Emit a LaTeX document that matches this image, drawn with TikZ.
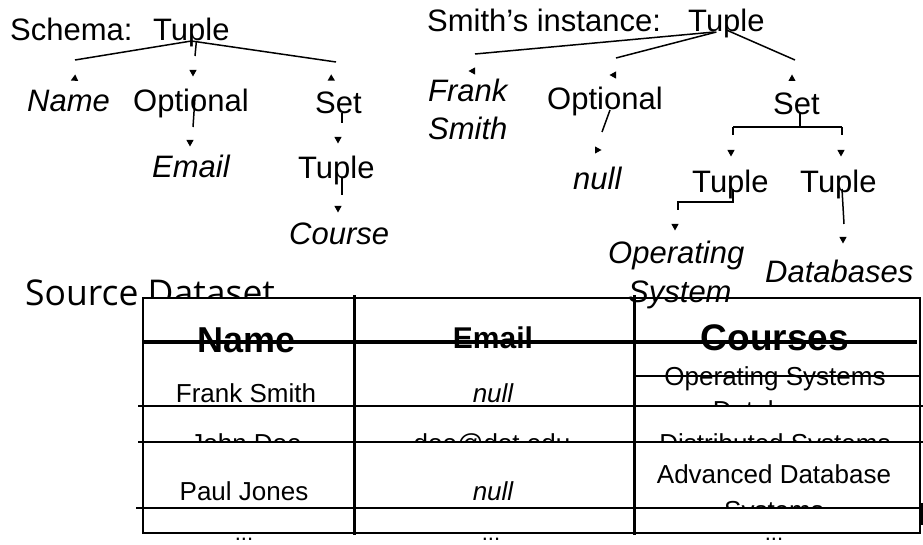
\documentclass[tikz,border=0pt]{standalone}
\usepackage{fontspec}
\usetikzlibrary{calc}
\setmainfont{Liberation Sans}
\newfontfamily\srcfont{Open Sans}
\newcommand\fsz[1]{\fontsize{#1}{#1}\selectfont}
% small filled arrow tip: (x, y, rotation); rotation 0 points down
\newcommand\arrtip[3]{\fill[shift={(#1,#2)},rotate=#3] (0,3.5) -- (-3.6,-3) -- (3.6,-3) -- cycle;}
\tikzset{
  lbl/.style={inner sep=0pt, anchor=base west, font=\fsz{31}},
  ilbl/.style={lbl, font=\fsz{31}\itshape},
  conn/.style={line width=1.5pt},
  cell/.style={inner sep=0pt, anchor=base, font=\fsz{26}},
  icell/.style={cell, font=\fsz{26}\itshape},
  head/.style={inner sep=0pt, anchor=base, font=\bfseries},
}
\begin{document}
\begin{tikzpicture}[x=1pt,y=-1pt]
\clip (0,0) rectangle (923,545);
\fill[white] (0,0) rectangle (923,545);

% ---------- caption, partly hidden by the table ----------
\node[inner sep=0pt, anchor=base west, font=\srcfont\fsz{35.5}] (src) at (25,305) {Source Dataset};

% ---------- table ----------
\fill[white] (143,298) rectangle (920,533);
\draw[line width=1.8pt] (143,298) rectangle (920,533);
\draw[line width=3pt] (354,295) -- (354,535);
\draw[line width=3pt] (634,295) -- (634,535);

\node[head, font=\bfseries\fsz{36}] (hName) at (247,352) {Name};
\node[head, font=\bfseries\fsz{30}] (hEmail) at (493,348) {Email};
\node[head, font=\bfseries\fsz{37}] (hCourses) at (775,350) {Courses};

\node[cell] (r1n) at (246,402) {Frank Smith};
\node[icell] (r1e) at (493,402) {null};
\node[cell] (r1c) at (775,385) {Operating Systems};
\begin{scope}
  \clip (636,378) rectangle (919,405);
  \node[cell] (r1c2) at (775,419) {Databases};
\end{scope}

\begin{scope}
  \clip (143,407) rectangle (920,441);
  \node[cell] (r2n) at (246,452) {John Doe};
  \node[cell] (r2e) at (492,452) {doe@dot.edu};
  \node[cell] (r2c) at (775,452) {Distributed Systems};
\end{scope}

\node[cell] (r3n) at (244,500) {Paul Jones};
\node[icell] (r3e) at (493,500) {null};
\node[cell] (r3c) at (774,483) {Advanced Database};
\begin{scope}
  \clip (636,443) rectangle (919,507);
  \node[cell] (r3c2) at (774,519) {Systems};
\end{scope}

% row rules, drawn over the cell texts
\draw[line width=3.5pt] (142,342) -- (917,342);
\draw[line width=1.5pt] (634,376) -- (920,376);
\draw[line width=2.5pt] (138,406) -- (923,406);
\draw[line width=2.2pt] (138,442) -- (923,442);
\draw[line width=2.2pt] (136,508) -- (920,508);
\draw[line width=3pt] (922,503) -- (922,525);

\node[cell, font=\fsz{22}] (d1) at (244,540) {...};
\node[cell, font=\fsz{22}] (d2) at (491,540) {...};
\node[cell, font=\fsz{22}] (d3) at (774,540) {...};

% ---------- schema tree ----------
\node[lbl] (sLab) at (10,41) {Schema:};
\node[lbl] (sT) at (153,41) {Tuple};
\coordinate (sA) at (75,60);
\coordinate (sB) at (195,56);
\coordinate (sC) at (336,62);
\draw[conn] (sT.base) -- (sA);
\draw[conn] (sT.base) -- (sC);
\draw[conn] ($(sT.base)+(5,0)$) -- (sB);
\arrtip{74}{79}{-65}
\arrtip{193}{73}{0}
\arrtip{332}{79}{60}

\node[ilbl] (sName) at (27,112) {Name};
\node[lbl] (sOpt) at (133,112) {Optional};
\node[lbl] (sSet) at (315,114) {Set};

\coordinate (sO1) at (195,97);
\coordinate (sO2) at (193,127);
\draw[conn] (sO1) -- (sO2);
\arrtip{190}{143}{0}
\node[ilbl] (sEmail) at (152,178) {Email};

\coordinate (sS1) at (342,113);
\coordinate (sS2) at (342,123);
\draw[conn] (sS1) -- (sS2);
\arrtip{338}{140}{0}
\node[lbl] (sT2) at (298,179) {Tuple};

\coordinate (sU1) at (342,177);
\coordinate (sU2) at (342,195);
\draw[conn] (sU1) -- (sU2);
\arrtip{338}{209}{0}
\node[ilbl] (sCourse) at (289,245) {Course};

% ---------- instance tree ----------
\node[lbl] (iLab) at (427,32) {Smith’s instance:};
\node[lbl] (iT) at (688,32) {Tuple};
\coordinate (iA) at (475,54);
\coordinate (iB) at (616,58);
\coordinate (iC) at (795,60);
\draw[conn] ($(iT.base)+(-12,0)$) -- (iA);
\draw[conn] ($(iT.base)+(-10,0)$) -- (iB);
\draw[conn] ($(iT.base)+(0,-2)$) -- (iC);
\draw[conn] ($(iT.base)+(0,-3)$) -- ++(0,7);
\arrtip{472}{71}{-90}
\arrtip{613}{75}{-90}
\arrtip{792}{78}{180}

\node[ilbl] (iFrank) at (428,102) {Frank};
\node[ilbl] (iSmith) at (428,140) {Smith};
\node[lbl] (iOpt) at (547,110) {Optional};
\node[lbl] (iSet) at (773,115) {Set};

\coordinate (iO1) at (610,110);
\coordinate (iO2) at (602,132);
\draw[conn] (iO1) -- (iO2);
\arrtip{598}{150}{90}
\node[ilbl] (iNull) at (573,190) {null};

\coordinate (iS0) at (800,113);
\coordinate (iSL) at (733,127);
\coordinate (iSR) at (842,127);
\draw[conn] (iS0) -- (800,127);
\draw[conn] (iSL) -- (iSR);
\draw[conn] (iSL) -- ++(0,8);
\draw[conn] (iSR) -- ++(0,8);
\arrtip{731}{153}{0}
\arrtip{841}{153}{0}

\node[lbl] (iT1) at (692,193) {Tuple};
\node[lbl] (iT2) at (800,193) {Tuple};

\coordinate (iL0) at (733,189);
\coordinate (iL1) at (733,202);
\coordinate (iL2) at (678,202);
\draw[conn] (iL0) -- (iL1) -- (iL2) -- ++(0,8);
\arrtip{675}{227}{0}

\coordinate (iR0) at (842,189);
\coordinate (iR1) at (844,224);
\draw[conn] (iR0) -- (iR1);
\arrtip{843}{240}{0}

\node[ilbl] (iOper) at (608,264) {Operating};
\node[ilbl] (iSys) at (628,302) {System};
\node[ilbl] (iDb) at (765,282) {Databases};
\end{tikzpicture}
\end{document}
